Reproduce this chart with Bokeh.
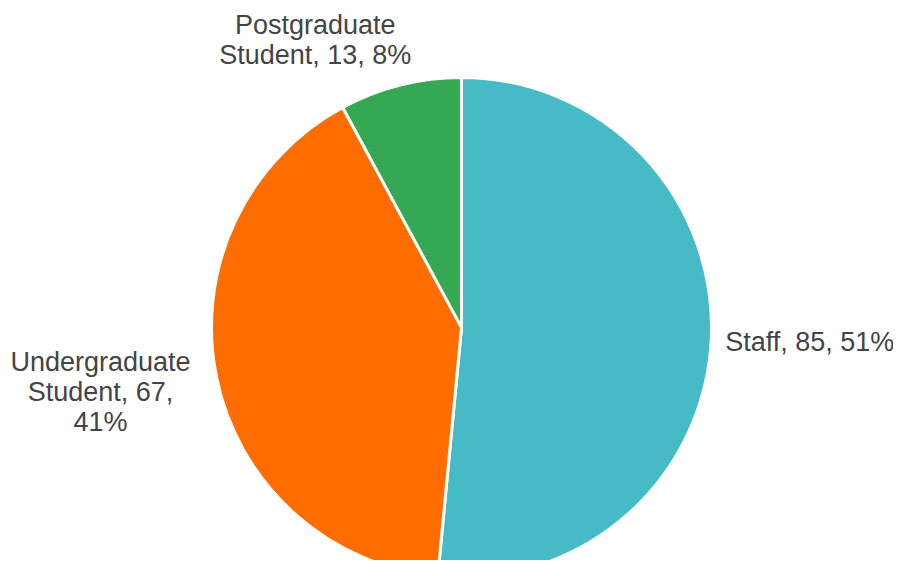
import math
from bokeh.plotting import figure
from bokeh.models import Range1d, ColumnDataSource
from bokeh.core.properties import value
from bokeh.embed import file_html
from bokeh.resources import INLINE

# ---- data ----
categories = ["Staff", "Undergraduate Student", "Postgraduate Student"]
counts = [85, 67, 13]
colors = ["#46BBC6", "#FF6D01", "#34A853"]
label_texts = ["Staff, 85, 51%", "Undergraduate\nStudent, 67,\n41%", "Postgraduate\nStudent, 13, 8%"]

# ---- layout (pixel coordinates; data y = -pixel y) ----
W, H = 893, 560
CX, CY, R = 461, 327, 250

total = sum(counts)
starts, ends, mids = [], [], []
a = math.pi / 2
for c in counts:
    span = c / total * 2 * math.pi
    starts.append(a)
    ends.append(a - span)
    mids.append(a - span / 2)
    a -= span

p = figure(width=W, height=H, output_backend="svg", toolbar_location=None,
           x_range=Range1d(0, W), y_range=Range1d(-H, 0),
           min_border=0, outline_line_color=None)
p.axis.visible = False
p.grid.visible = False
p.background_fill_color = "white"
p.border_fill_color = "white"

src = ColumnDataSource(dict(start=starts, end=ends, color=colors, cat=categories))
p.wedge(x=CX, y=-CY, radius=R, start_angle="start", end_angle="end",
        direction="clock", fill_color="color", line_color="white", line_width=3,
        source=src)

# label placement derived from slice mid-angles, with side-dependent offsets
offsets = [(14, 3, "left", "middle"), (-116, -30, "center", "top"), (-85, -75, "center", "top")]
for i, (m, (dx, dy, al, bl)) in enumerate(zip(mids, offsets)):
    ex = CX + R * math.cos(m)
    ey = CY - R * math.sin(m)
    p.text(x=[ex + dx], y=[-(ey + dy)], text=[label_texts[i]], text_align=al,
           text_baseline=bl, text_font=value("Liberation Sans"),
           text_font_size="27px", text_color="#444444", text_line_height=1.0)

open("out.html", "w").write(file_html(p, INLINE))
